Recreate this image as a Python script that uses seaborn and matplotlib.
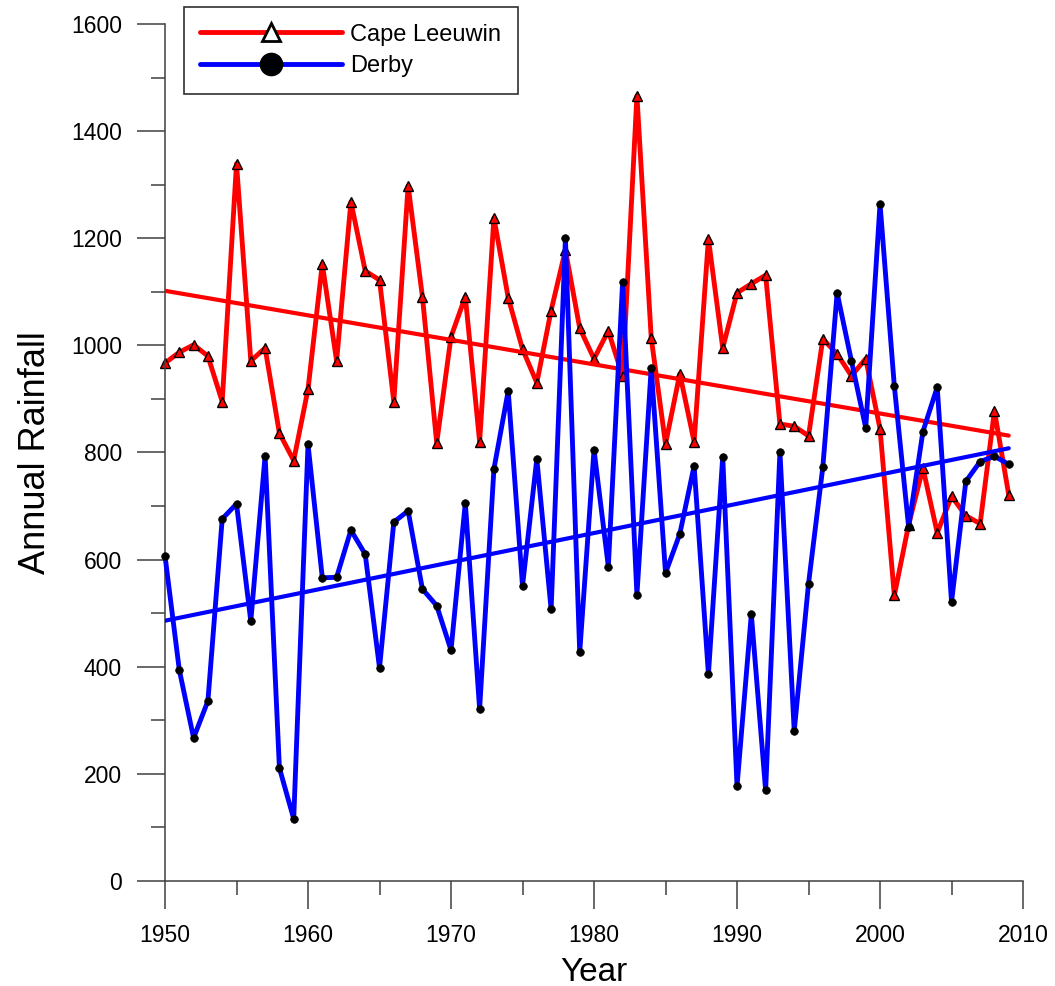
import numpy as np
import pandas as pd
import seaborn as sns
import matplotlib.pyplot as plt
from matplotlib.lines import Line2D
from matplotlib.ticker import MultipleLocator

years = list(range(1950, 2010))

cape_leeuwin = [967, 987, 1001, 980, 895, 1339, 971, 995, 836, 785,
                918, 1152, 971, 1268, 1139, 1122, 895, 1298, 1091, 818,
                1016, 1091, 820, 1238, 1089, 993, 930, 1065, 1178, 1032,
                975, 1027, 942, 1466, 1014, 816, 947, 820, 1199, 995,
                1098, 1115, 1131, 853, 849, 831, 1012, 984, 943, 975,
                844, 533, 665, 771, 650, 718, 682, 667, 878, 721]

derby = [607, 394, 267, 336, 676, 704, 485, 794, 211, 116,
         815, 566, 567, 655, 610, 398, 670, 691, 545, 514,
         431, 706, 321, 769, 915, 551, 788, 507, 1200, 427,
         805, 587, 1118, 534, 958, 575, 648, 775, 386, 792,
         177, 498, 169, 801, 280, 555, 773, 1098, 971, 846,
         1264, 924, 661, 839, 922, 521, 746, 783, 793, 778]

df = pd.DataFrame({"Year": years, "Cape Leeuwin": cape_leeuwin, "Derby": derby})

sns.set_style("ticks")
plt.rcParams['font.family'] = ['Liberation Sans', 'DejaVu Sans']
plt.rcParams['text.color'] = 'black'
plt.rcParams['axes.labelcolor'] = 'black'

fig, ax = plt.subplots(figsize=(10.55, 9.86), dpi=100)
fig.subplots_adjust(left=0.1564, right=0.9697, bottom=0.1065, top=0.9757)

# red series + trend
sns.lineplot(data=df, x="Year", y="Cape Leeuwin", ax=ax, color="#ff0000", lw=3.5,
             marker="^", markersize=6.5, markerfacecolor="#ff0000",
             markeredgecolor="black", markeredgewidth=1, clip_on=False, zorder=2)
sns.regplot(data=df, x="Year", y="Cape Leeuwin", ax=ax, scatter=False, ci=None,
            line_kws=dict(color="#ff0000", lw=3, zorder=3))

# blue series + trend
sns.lineplot(data=df, x="Year", y="Derby", ax=ax, color="#0000ff", lw=3.5,
             marker="o", markersize=5.5, markerfacecolor="black",
             markeredgecolor="black", markeredgewidth=0.5, clip_on=False, zorder=4)
sns.regplot(data=df, x="Year", y="Derby", ax=ax, scatter=False, ci=None,
            line_kws=dict(color="#0000ff", lw=3, zorder=5))

ax.set_xlim(1950, 2010)
ax.set_ylim(0, 1600)
ax.xaxis.set_major_locator(MultipleLocator(10))
ax.xaxis.set_minor_locator(MultipleLocator(5))
ax.yaxis.set_major_locator(MultipleLocator(200))
ax.yaxis.set_minor_locator(MultipleLocator(100))

for side in ["top", "right"]:
    ax.spines[side].set_visible(False)
for side in ["left", "bottom"]:
    ax.spines[side].set_color("#404040")
    ax.spines[side].set_linewidth(1.1)

ax.tick_params(which="major", length=20, width=1.1, color="#404040",
               labelsize=16.5, labelcolor="black", pad=11, direction="out")
ax.tick_params(which="minor", length=10, width=1.1, color="#404040", direction="out")

ax.set_xlabel("Year", fontsize=24, labelpad=7)
ax.set_ylabel("Annual Rainfall", fontsize=26, labelpad=13)

handles = [
    Line2D([], [], color="#ff0000", lw=3.5, marker="^", markersize=13,
           markerfacecolor="white", markeredgecolor="black", markeredgewidth=2),
    Line2D([], [], color="#0000ff", lw=3.5, marker="o", markersize=16,
           markerfacecolor="black", markeredgecolor="black"),
]
leg = ax.legend(handles, ["Cape Leeuwin", "Derby"], loc="upper left",
                bbox_to_anchor=(0.0221, 1.0198), borderaxespad=0,
                fontsize=17, handlelength=6, handletextpad=0.35,
                borderpad=0.7, labelspacing=0.42, fancybox=False,
                framealpha=1, edgecolor="#303030")
leg.get_frame().set_linewidth(1.2)

fig.savefig("out.png", dpi=100)
